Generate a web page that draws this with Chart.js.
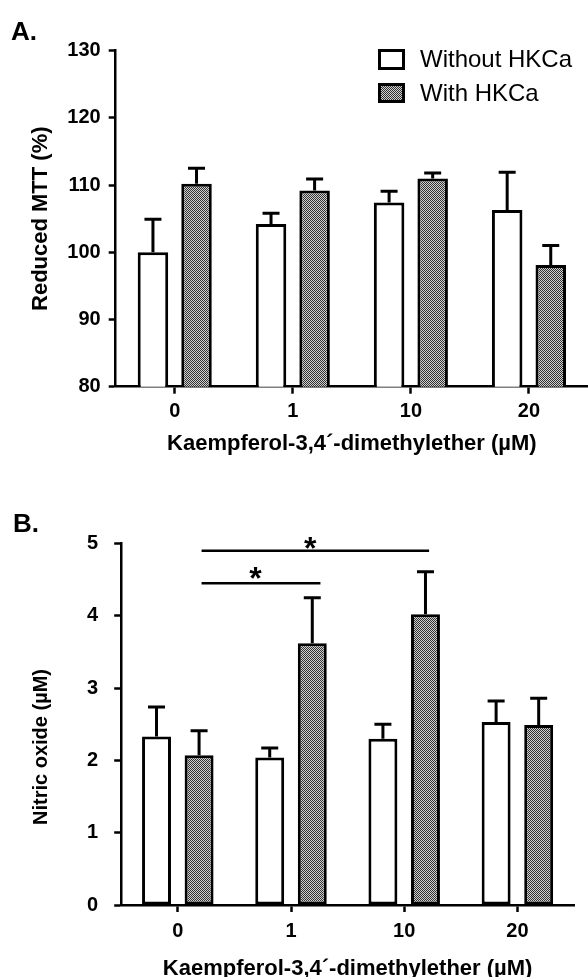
<!DOCTYPE html>
<html>
<head>
<meta charset="utf-8">
<script src="https://cdn.jsdelivr.net/npm/chart.js@4.4.1/dist/chart.umd.min.js"></script>
<style>
html, body { margin: 0; padding: 0; background: #fff; overflow: hidden; }
#wrapA { position: absolute; left: 0; top: 0; width: 588px; height: 457px; }
#wrapB { position: absolute; left: 0; top: 470px; width: 588px; height: 512px; }
</style>
</head>
<body>
<div id="wrapA"><canvas id="chartA"></canvas></div>
<div id="wrapB"><canvas id="chartB"></canvas></div>
<script>
const doses = ['0', '1', '10', '20'];
const seriesNames = ['Without HKCa', 'With HKCa'];

// A. reduced MTT (%), mean and upper error
const mttWithout = [100, 104.2, 107.4, 106.3];
const mttWithoutErr = [4.9, 1.6, 1.7, 5.6];
const mttWith = [110.2, 109.2, 111.0, 98.1];
const mttWithErr = [2.3, 1.7, 0.8, 2.9];

// B. nitric oxide (uM)
const noWithout = [2.33, 2.04, 2.30, 2.53];
const noWithoutErr = [0.41, 0.13, 0.20, 0.29];
const noWith = [2.07, 3.62, 4.02, 2.49];
const noWithErr = [0.34, 0.63, 0.59, 0.37];

// significance bars in B (category units / value units)
const sigFrom = [0.21, 0.21];
const sigTo = [1.26, 2.22];
const sigLevel = [4.45, 4.9];
const sigStarX = [0.686, 1.17];
const sigStarY = [4.62, 5.04];

const xTitle = 'Kaempferol-3,4´-dimethylether (µM)';
const FONT = 'Arial, "Liberation Sans", Helvetica, sans-serif';

function makePattern() {
    const c = document.createElement('canvas');
    c.width = 2; c.height = 2;
    const g = c.getContext('2d');
    g.fillStyle = '#cfcfcf'; g.fillRect(0, 0, 2, 2);
    g.fillStyle = '#333'; g.fillRect(0, 0, 1, 1); g.fillRect(1, 1, 1, 1);
    return g.createPattern(c, 'repeat');
}
const hatch = makePattern();

// upward error bars from top of each bar
const errorBars = {
    id: 'errorBars',
    afterDatasetsDraw(chart) {
        const ctx = chart.ctx, y = chart.scales.y;
        ctx.save();
        ctx.strokeStyle = '#000';
        ctx.lineWidth = 3;
        chart.data.datasets.forEach((ds, i) => {
            chart.getDatasetMeta(i).data.forEach((bar, j) => {
                const top = y.getPixelForValue(ds.data[j] + ds.errors[j]);
                ctx.beginPath();
                ctx.moveTo(bar.x, bar.y); ctx.lineTo(bar.x, top);
                ctx.moveTo(bar.x - 8.5, top); ctx.lineTo(bar.x + 8.5, top);
                ctx.stroke();
            });
        });
        ctx.restore();
    }
};

// panel letter + rotated y title
const decor = {
    id: 'decor',
    afterDraw(chart, args, o) {
        const ctx = chart.ctx;
        ctx.save();
        ctx.fillStyle = '#000';
        ctx.font = 'bold 26px ' + FONT;
        ctx.textBaseline = 'alphabetic';
        ctx.textAlign = 'left';
        ctx.fillText(o.letter, o.letterX, o.letterY);
        ctx.translate(o.titleX, o.titleY);
        ctx.rotate(-Math.PI / 2);
        ctx.font = 'bold ' + o.titleSize + 'px ' + FONT;
        ctx.textAlign = 'center';
        ctx.textBaseline = 'middle';
        ctx.fillText(o.title, 0, 0);
        ctx.restore();
    }
};

const legendBoxes = {
    id: 'legendBoxes',
    afterDraw(chart) {
        const ctx = chart.ctx;
        const rows = [[49, 21, 60], [83, 20, 94]];
        ctx.save();
        chart.data.datasets.forEach((ds, i) => {
            const [by, bh, ty] = rows[i];
            ctx.fillStyle = ds.backgroundColor;
            ctx.fillRect(378, by, 27, bh);
            ctx.strokeStyle = '#000';
            ctx.lineWidth = 3;
            ctx.strokeRect(379.5, by + 1.5, 24, bh - 3);
            ctx.fillStyle = '#000';
            ctx.font = '24px ' + FONT;
            ctx.textBaseline = 'middle';
            ctx.fillText(ds.label, 420, ty);
        });
        ctx.restore();
    }
};

const sigBars = {
    id: 'sigBars',
    afterDraw(chart) {
        const ctx = chart.ctx, x = chart.scales.x, y = chart.scales.y;
        ctx.save();
        ctx.strokeStyle = '#000';
        ctx.fillStyle = '#000';
        ctx.lineWidth = 2.5;
        ctx.font = 'bold 32px ' + FONT;
        ctx.textAlign = 'center';
        ctx.textBaseline = 'alphabetic';
        sigFrom.forEach((f, i) => {
            const py = y.getPixelForValue(sigLevel[i]);
            ctx.beginPath();
            ctx.moveTo(x.getPixelForValue(f), py);
            ctx.lineTo(x.getPixelForValue(sigTo[i]), py);
            ctx.stroke();
            ctx.fillText('*', x.getPixelForValue(sigStarX[i]), y.getPixelForValue(sigStarY[i]) + 18.5);
        });
        ctx.restore();
    }
};

function axisOpts(o) {
    const tickFont = { family: FONT, size: 20, weight: 'bold' };
    return {
        x: {
            offset: true,
            grid: { offset: false, drawOnChartArea: false, drawTicks: true, tickLength: 7, tickColor: '#000', tickWidth: 2.5 },
            border: { color: '#000', width: 2.5 },
            ticks: { color: '#000', font: tickFont, padding: o.xPad },
            title: { display: true, text: xTitle, color: '#000', padding: 0, font: { family: FONT, size: 22, weight: 'bold' } },
            afterFit(s) { s.height = o.xHeight; }
        },
        y: {
            min: o.min, max: o.max,
            grid: { drawOnChartArea: false, drawTicks: true, tickLength: 7, tickColor: '#000', tickWidth: 2.5 },
            border: { color: '#000', width: 2.5 },
            ticks: { stepSize: o.step, color: '#000', font: tickFont, padding: o.yPad },
            afterFit(s) { s.width = o.yWidth; }
        }
    };
}

function barSet(label, data, errors, fill, cat, bar) {
    return {
        label: label, data: data, errors: errors,
        backgroundColor: fill, borderColor: '#000', borderWidth: 3,
        borderSkipped: false, categoryPercentage: cat, barPercentage: bar
    };
}

new Chart(document.getElementById('chartA'), {
    type: 'bar',
    data: {
        labels: doses,
        datasets: [
            barSet(seriesNames[0], mttWithout, mttWithoutErr, '#fff', 0.738, 0.70),
            barSet(seriesNames[1], mttWith, mttWithErr, hatch, 0.738, 0.70)
        ]
    },
    options: {
        responsive: true, maintainAspectRatio: false, animation: false,
        layout: { padding: { top: 50.7, left: 0, right: 0, bottom: 0 } },
        plugins: {
            legend: { display: false }, tooltip: { enabled: false },
            decor: { letter: 'A.', letterX: 11, letterY: 40, title: 'Reduced MTT (%)', titleSize: 22, titleX: 41, titleY: 218.7 }
        },
        scales: axisOpts({ min: 80, max: 130, step: 10, xPad: 5.5, xHeight: 70.3, yPad: 8, yWidth: 115.7 })
    },
    plugins: [errorBars, decor, legendBoxes]
});

new Chart(document.getElementById('chartB'), {
    type: 'bar',
    data: {
        labels: doses,
        datasets: [
            barSet(seriesNames[0], noWithout, noWithoutErr, '#fff', 0.752, 0.68),
            barSet(seriesNames[1], noWith, noWithErr, hatch, 0.752, 0.68)
        ]
    },
    options: {
        responsive: true, maintainAspectRatio: false, animation: false,
        layout: { padding: { top: 73.5, left: 0, right: 14, bottom: 0 } },
        plugins: {
            legend: { display: false }, tooltip: { enabled: false },
            decor: { letter: 'B.', letterX: 13, letterY: 62, title: 'Nitric oxide (µM)', titleSize: 20, titleX: 41, titleY: 277 }
        },
        scales: axisOpts({ min: 0, max: 5, step: 1, xPad: 7, xHeight: 77, yPad: 16, yWidth: 121.2 })
    },
    plugins: [errorBars, decor, sigBars]
});
</script>
</body>
</html>
